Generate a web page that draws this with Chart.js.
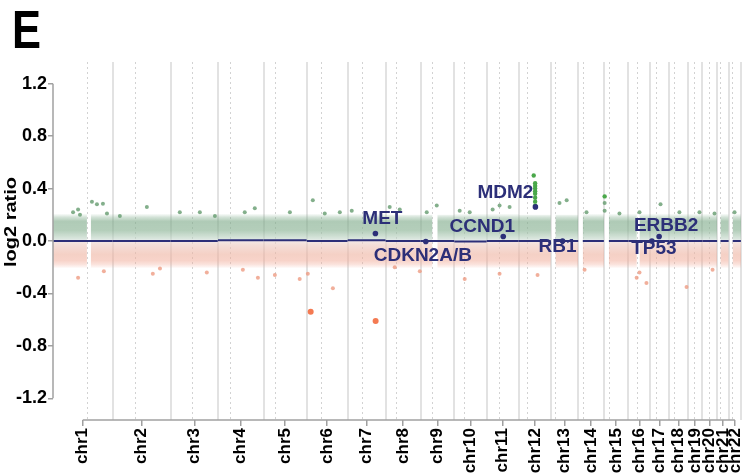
<!DOCTYPE html>
<html><head><meta charset="utf-8">
<script src="https://cdn.jsdelivr.net/npm/chart.js@4/dist/chart.umd.min.js"></script>
<style>html,body{margin:0;padding:0;background:#fff}</style>
</head><body>
<canvas id="c" width="753" height="475" style="width:753px;height:475px;display:block"></canvas>
<script>
// ---- data (hg19, Mb) ----
const chromosomes = ['chr1','chr2','chr3','chr4','chr5','chr6','chr7','chr8','chr9','chr10','chr11','chr12','chr13','chr14','chr15','chr16','chr17','chr18','chr19','chr20','chr21','chr22'];
const chrLengths = [249.3,243.2,198.0,191.2,180.9,171.1,159.1,146.4,141.2,135.5,135.0,133.9,115.2,107.3,102.5,90.4,81.2,78.1,59.1,63.0,48.1,51.3];
const centromeres = [141.0,93.3,91.0,50.4,48.4,61.0,59.9,45.6,49.0,40.2,53.7,35.8,17.9,17.6,19.0,36.6,24.0,17.2,26.5,27.5,13.2,14.7];
const dataStart = [0,0,0,0,0,0,0,0,0,0,0,0,19,18,20,0,0,0,0,0,13,16];
const segMeans = [0,0,0,0.006,0.006,0,0.006,0,0,-0.003,0,0,0,0,0,0,0,0,0,0,0,0];
const bandHi = [0.21,0.21,0.21,0.21,0.21,0.21,0.21,0.2,0.2,0.21,0.21,0.2,0.2,0.21,0.21,0.21,0.22,0.21,0.21,0.21,0.21,0.21];
const bandLo = [-0.21,-0.21,-0.21,-0.21,-0.21,-0.21,-0.21,-0.21,-0.21,-0.21,-0.21,-0.21,-0.21,-0.21,-0.21,-0.21,-0.22,-0.21,-0.21,-0.21,-0.21,-0.21];
const gapChr = ['chr1','chr9','chr16'];
const gapFrom = [142,50,35];
const gapTo = [158,70,46];
const yTicks = [-1.2,-0.8,-0.4,0.0,0.4,0.8,1.2];
// outliers: genome position (Mb, cumulative) and log2 ratio
const gainPos = [84,105,113,163,184,209,226,280,393,531,615,678,803,845,992,1088,1138,1201,1251,1410,1452,1565,1607,1703,1745,1841,1870,1912,2121,2151,2234,2310,2310,2372,2456,2544,2623,2707,2770,2854];
const gainVal = [0.22,0.24,0.20,0.30,0.28,0.285,0.21,0.19,0.26,0.22,0.22,0.19,0.22,0.25,0.22,0.31,0.21,0.22,0.23,0.26,0.24,0.22,0.27,0.23,0.22,0.24,0.27,0.26,0.29,0.31,0.22,0.29,0.23,0.21,0.22,0.28,0.22,0.22,0.21,0.22];
const lossPos = [105,213,418,448,644,795,858,929,1033,1067,1172,1431,1536,1724,1870,2029,2226,2444,2456,2485,2653,2762];
const lossVal = [-0.28,-0.23,-0.25,-0.21,-0.24,-0.22,-0.28,-0.26,-0.29,-0.25,-0.36,-0.20,-0.23,-0.29,-0.25,-0.26,-0.22,-0.28,-0.24,-0.32,-0.35,-0.22];
const strongLossPos = [1079,1351];
const strongLossVal = [-0.54,-0.61];
const mdm2Pos = [2019,2019,2019,2019,2019,2019,2019,2019,2013,2310];
const mdm2Val = [0.27,0.30,0.33,0.36,0.38,0.40,0.42,0.44,0.50,0.34];
const geneNames = ['MET','CDKN2A/B','CCND1','MDM2','RB1','TP53','ERBB2'];
const geneChr = ['chr7','chr9','chr11','chr12','chr13','chr17','chr17'];
const geneMb = [116.4,21.9,69.5,69.2,48.9,7.6,37.9];
const geneVal = [0.057,-0.004,0.034,0.26,0.0,0.0,0.034];

// ---- derived ----
const chrOffset = [];
chrLengths.reduce((acc, l, i) => { chrOffset[i] = acc; return acc + l; }, 0);
const genomeEnd = chrOffset[21] + chrLengths[21];
const chrCenter = chrLengths.map((l, i) => chrOffset[i] + l / 2);
const gx = (chr, mb) => chrOffset[chromosomes.indexOf(chr)] + mb;

function bandData(vals) {
  const pts = [];
  chromosomes.forEach((c, i) => {
    const s = chrOffset[i] + dataStart[i], e = chrOffset[i] + chrLengths[i];
    if (dataStart[i] > 0) pts.push({x: s - 0.5, y: null});
    const gi = gapChr.indexOf(c);
    if (gi >= 0) {
      pts.push({x: s, y: vals[i]}, {x: chrOffset[i] + gapFrom[gi], y: vals[i]}, {x: chrOffset[i] + gapFrom[gi] + 0.5, y: null});
      pts.push({x: chrOffset[i] + gapTo[gi], y: vals[i]}, {x: e, y: vals[i]});
    } else {
      pts.push({x: s, y: vals[i]}, {x: e, y: vals[i]});
    }
  });
  return pts;
}
function segData() {
  const pts = [];
  chromosomes.forEach((c, i) => {
    pts.push({x: chrOffset[i] + dataStart[i] + 0.5, y: segMeans[i]}, {x: chrOffset[i] + chrLengths[i] - 0.5, y: segMeans[i]}, {x: chrOffset[i] + chrLengths[i], y: null});
  });
  return pts;
}
const zip = (xs, ys) => xs.map((x, i) => ({x, y: ys[i]}));

function grad(ctx, stops) {
  const chart = ctx.chart;
  if (!chart.chartArea) return 'rgba(0,0,0,0)';
  const y = chart.scales.y;
  const p0 = y.getPixelForValue(stops[0][0]);
  const p1 = y.getPixelForValue(stops[stops.length - 1][0]);
  const g = chart.ctx.createLinearGradient(0, p0, 0, p1);
  stops.forEach(([v, col]) => g.addColorStop(Math.min(1, Math.max(0, (y.getPixelForValue(v) - p0) / (p1 - p0))), col));
  return g;
}

const SANS = '"Liberation Sans", Arial, Helvetica, sans-serif';

const decor = {
  id: 'decor',
  beforeDatasetsDraw(chart) {
    const {ctx, chartArea: a, scales: {x}} = chart;
    ctx.save();
    ctx.strokeStyle = '#e2e2e2';
    ctx.lineWidth = 2;
    for (let i = 1; i <= 22; i++) {
      const v = i < 22 ? chrOffset[i] : genomeEnd;
      const px = Math.round(x.getPixelForValue(v));
      ctx.beginPath(); ctx.moveTo(px, a.top); ctx.lineTo(px, a.bottom); ctx.stroke();
    }
    ctx.strokeStyle = '#d2d2d2';
    ctx.lineWidth = 1;
    ctx.setLineDash([2, 3]);
    centromeres.forEach((c, i) => {
      const px = Math.round(x.getPixelForValue(chrOffset[i] + c)) + 0.5;
      ctx.beginPath(); ctx.moveTo(px, a.top); ctx.lineTo(px, a.bottom); ctx.stroke();
    });
    ctx.restore();
  },
  afterDatasetsDraw(chart) {
    const {ctx, scales: {x, y}} = chart;
    ctx.save();
    ctx.fillStyle = '#2c2f78';
    ctx.font = 'bold 19px ' + SANS;
    ctx.textAlign = 'center';
    ctx.textBaseline = 'middle';
    const off = [[7,-15],[-3,14],[-21,-10],[-30,-14],[-5,6],[2,8],[7,-11]];
    geneNames.forEach((g, i) => {
      const px = x.getPixelForValue(gx(geneChr[i], geneMb[i]));
      const py = y.getPixelForValue(geneVal[i]);
      ctx.fillText(g, px + off[i][0], py + off[i][1]);
    });
    ctx.restore();
  },
  afterDraw(chart) {
    const {ctx, chartArea: a, scales: {x, y}} = chart;
    ctx.save();
    ctx.strokeStyle = '#a0a0a0';
    ctx.lineWidth = 1.5;
    ctx.beginPath();
    ctx.moveTo(x.getPixelForValue(chrCenter[0]), a.bottom);
    ctx.lineTo(x.getPixelForValue(chrCenter[21]), a.bottom);
    ctx.stroke();
    ctx.beginPath();
    ctx.moveTo(a.left, y.getPixelForValue(yTicks[yTicks.length - 1]));
    ctx.lineTo(a.left, y.getPixelForValue(yTicks[0]));
    ctx.stroke();
    ctx.fillStyle = '#000';
    ctx.save();
    ctx.translate(12, 48);
    ctx.scale(0.82, 1);
    ctx.font = 'bold 53px ' + SANS;
    ctx.textAlign = 'left';
    ctx.textBaseline = 'alphabetic';
    ctx.fillText('E', 0, 0);
    ctx.restore();
    ctx.translate(12, 222);
    ctx.rotate(-Math.PI / 2);
    ctx.scale(1.25, 1);
    ctx.font = 'bold 16px ' + SANS;
    ctx.textAlign = 'center';
    ctx.textBaseline = 'middle';
    ctx.fillText('log2 ratio', 0, 0);
    ctx.restore();
  }
};

new Chart(document.getElementById('c'), {
  type: 'scatter',
  data: {
    datasets: [
      { type: 'line', label: 'gain band', data: bandData(bandHi), fill: 'origin', spanGaps: false, borderWidth: 0, pointRadius: 0, order: 10,
        backgroundColor: ctx => grad(ctx, [[0.21,'rgba(125,170,137,0)'],[0.18,'rgba(125,170,137,0.35)'],[0.15,'rgba(122,168,134,0.6)'],[0.08,'rgba(140,180,150,0.65)'],[0.02,'rgba(190,212,197,0.6)'],[0.0,'rgba(222,228,226,0.6)']]) },
      { type: 'line', label: 'loss band', data: bandData(bandLo), fill: 'origin', spanGaps: false, borderWidth: 0, pointRadius: 0, order: 10,
        backgroundColor: ctx => grad(ctx, [[0.0,'rgba(236,218,214,0.6)'],[-0.03,'rgba(236,200,190,0.6)'],[-0.1,'rgba(238,178,160,0.6)'],[-0.15,'rgba(240,168,148,0.5)'],[-0.18,'rgba(240,165,145,0.3)'],[-0.21,'rgba(240,165,145,0)']]) },
      { label: 'gain', data: zip(gainPos, gainVal), pointRadius: 2, pointBorderWidth: 0, backgroundColor: 'rgba(100,155,110,0.8)', order: 5 },
      { label: 'loss', data: zip(lossPos, lossVal), pointRadius: 2, pointBorderWidth: 0, backgroundColor: 'rgba(238,155,130,0.8)', order: 5 },
      { label: 'strong loss', data: zip(strongLossPos, strongLossVal), pointRadius: 3, pointBorderWidth: 0, backgroundColor: '#f47a52', order: 5 },
      { label: 'MDM2 amp', data: zip(mdm2Pos, mdm2Val), pointRadius: 2.2, pointBorderWidth: 0, backgroundColor: '#4aa84a', order: 4 },
      { type: 'line', label: 'segments', data: segData(), spanGaps: false, borderColor: '#2c2f78', borderWidth: 2, pointRadius: 0, fill: false, order: 3 },
      { label: 'genes', data: geneNames.map((g, i) => ({x: gx(geneChr[i], geneMb[i]), y: geneVal[i]})), pointRadius: 2.8, pointBorderWidth: 0, backgroundColor: '#2c2f78', order: 1 }
    ]
  },
  options: {
    responsive: false,
    devicePixelRatio: 1,
    animation: false,
    layout: { padding: { top: 62, right: 12, left: 0, bottom: 0 } },
    plugins: { legend: { display: false }, tooltip: { enabled: false } },
    scales: {
      x: {
        type: 'linear', min: 0, max: genomeEnd,
        afterBuildTicks: s => { s.ticks = chrCenter.map(v => ({value: v})); },
        afterFit: s => { s.height = 55; s.paddingLeft = 0; s.paddingRight = 0; },
        border: { display: false },
        grid: { drawOnChartArea: false, drawTicks: true, tickLength: 6, color: '#a0a0a0', lineWidth: 1.5 },
        ticks: { autoSkip: false, minRotation: 90, maxRotation: 90, padding: 2, color: '#000',
          font: { family: SANS, size: 17, weight: 'bold' },
          callback: (v, i) => chromosomes[i] }
      },
      y: {
        type: 'linear', min: -1.365, max: 1.365,
        afterBuildTicks: s => { s.ticks = yTicks.map(v => ({value: v})); },
        afterFit: s => { s.width = 53; s.paddingTop = 0; s.paddingBottom = 0; },
        border: { display: false },
        grid: { drawOnChartArea: false, drawTicks: true, tickLength: 5, color: '#a0a0a0', lineWidth: 1.5 },
        ticks: { padding: 1, color: '#000', font: { family: SANS, size: 18, weight: 'bold' },
          callback: v => v.toFixed(1) }
      }
    }
  },
  plugins: [decor]
});
</script>
</body></html>
